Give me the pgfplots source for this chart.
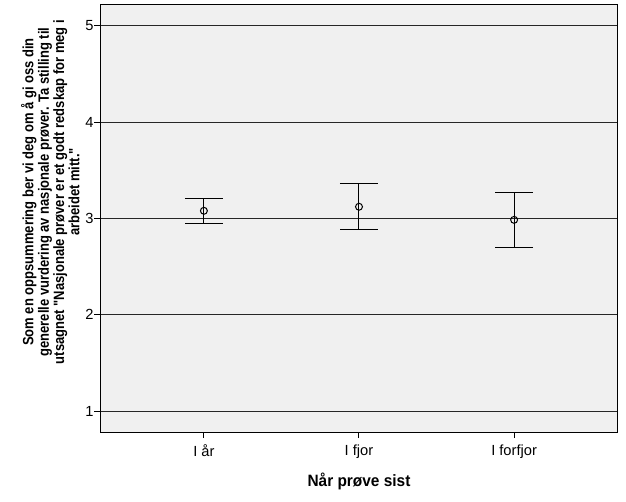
\documentclass[border=0pt]{standalone}
\usepackage{pgfplots}
\pgfplotsset{compat=1.18}
\usepackage{fontspec}
\setmainfont{Liberation Sans}
\newfontfamily\ylfont[FakeStretch=0.87]{Liberation Sans}
\newfontfamily\xlfont[FakeStretch=0.94]{Liberation Sans}
\definecolor{bg}{RGB}{240,240,240}
\begin{document}
\begin{tikzpicture}
\useasboundingbox (-75.375pt,-51.75pt) rectangle (394.125pt,324pt);
\begin{axis}[
  at={(0,0)}, anchor=south west,
  scale only axis, width=387.75pt, height=320.25pt,
  xmin=-0.6667, xmax=2.6667, ymin=0.782, ymax=5.218,
  xtick={0,1,2}, xticklabels={I år, I fjor, I forfjor},
  ytick={1,2,3,4,5},
  xtick pos=left, ytick pos=left,
  tick align=outside, major tick length=4.5pt,
  tick style={black, line width=0.75pt},
  ymajorgrids, grid style={black!85, line width=0.75pt},
  axis background/.style={fill=bg},
  axis line style={black, line width=0.75pt},
  tick label style={font=\fontsize{11}{13}\selectfont},
  yticklabel style={inner xsep=0.5pt},
  xticklabel style={yshift=-1.5pt},
  /pgf/number format/assume math mode=true,
  xlabel={Når prøve sist},
  xlabel style={at={(axis description cs:0.5,0)}, anchor=base, yshift=-40.5pt, font=\xlfont\bfseries\fontsize{12.3}{13}\selectfont},
  ylabel={Som en oppsummering ber vi deg om å gi oss din\\generelle vurdering av nasjonale prøver. Ta stilling til\\utsagnet "Nasjonale prøver er et godt redskap for meg i\\arbeidet mitt."},
  ylabel style={at={(axis description cs:-0.040,0.562)}, anchor=south, inner sep=0pt, align=center, font=\ylfont\bfseries\fontsize{11.2}{10.4}\selectfont},
  clip=false,
]
\addplot[black, line width=0.75pt, only marks, mark=o, mark size=2.6pt,
  error bars/.cd, y dir=both, y explicit,
  error bar style={black, line width=0.75pt},
  error mark options={black, line width=0.75pt, mark size=14.25pt, rotate=90}]
  coordinates {
    (0,3.080) +- (0,0.132)
    (1,3.122) +- (0,0.237)
    (2,2.986) +- (0,0.289)
  };
\end{axis}
\end{tikzpicture}
\end{document}
